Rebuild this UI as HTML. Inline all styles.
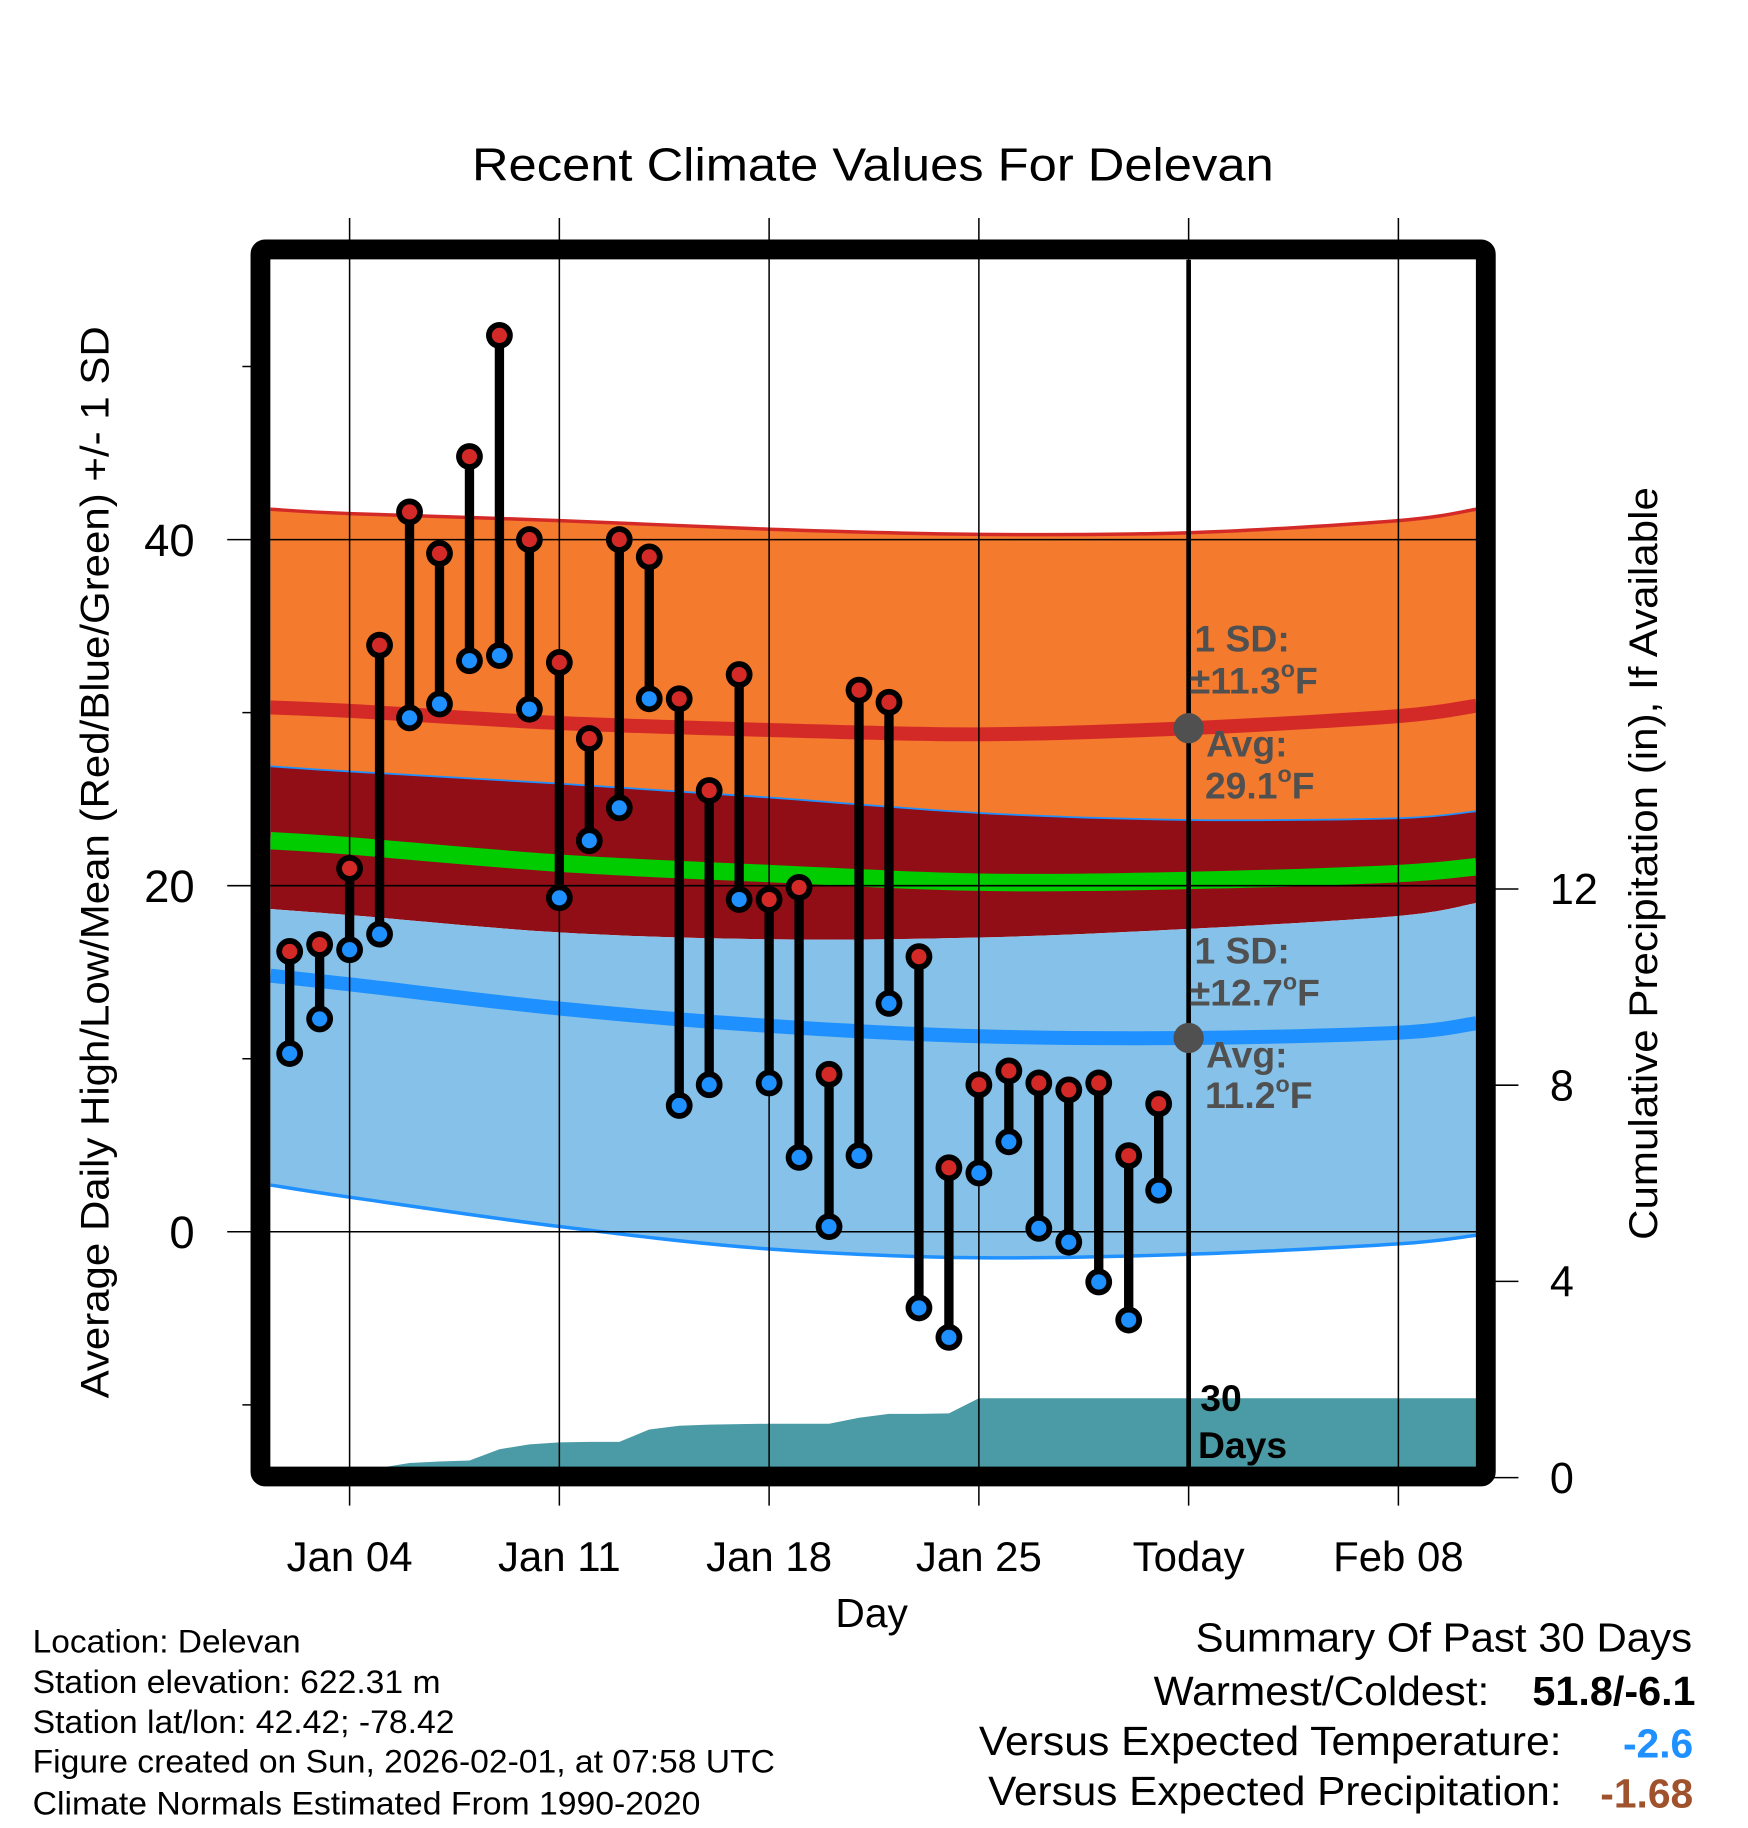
<!DOCTYPE html>
<html><head><meta charset="utf-8"><style>
html,body{margin:0;padding:0;background:#fff}
svg{display:block}
text{font-family:"Liberation Sans",Arial,sans-serif}
</style></head><body>
<svg id="chart" width="1748" height="1828" viewBox="0 0 1500 1568.6" xmlns="http://www.w3.org/2000/svg">
<defs><clipPath id="plotclip"><rect x="232" y="223" width="1035" height="1036"/></clipPath></defs>
<rect width="1500" height="1568.6" fill="#fff"/>
<text x="749" y="155" font-size="40" text-anchor="middle" textLength="688" lengthAdjust="spacingAndGlyphs">Recent Climate Values For Delevan</text>
<g id="plot" clip-path="url(#plotclip)"></g>
<g id="over"></g>
<text transform="translate(93,740) rotate(-90)" font-size="34" text-anchor="middle" textLength="920" lengthAdjust="spacingAndGlyphs">Average Daily High/Low/Mean (Red/Blue/Green) +/- 1 SD</text>
<text transform="translate(1422,741) rotate(-90)" font-size="34" text-anchor="middle" textLength="646" lengthAdjust="spacingAndGlyphs">Cumulative Precipitation (in), If Available</text>
<text x="748" y="1396" font-size="35" text-anchor="middle">Day</text>
<g font-size="28">
<text x="28" y="1418" textLength="230" lengthAdjust="spacingAndGlyphs">Location: Delevan</text>
<text x="28" y="1453" textLength="350" lengthAdjust="spacingAndGlyphs">Station elevation: 622.31 m</text>
<text x="28" y="1487" textLength="362" lengthAdjust="spacingAndGlyphs">Station lat/lon: 42.42; -78.42</text>
<text x="28" y="1521" textLength="637" lengthAdjust="spacingAndGlyphs">Figure created on Sun, 2026-02-01, at 07:58 UTC</text>
<text x="28" y="1557" textLength="573" lengthAdjust="spacingAndGlyphs">Climate Normals Estimated From 1990-2020</text>
</g>
<g font-size="35">
<text x="1452" y="1417" text-anchor="end" textLength="426" lengthAdjust="spacingAndGlyphs">Summary Of Past 30 Days</text>
<text x="1278" y="1463" text-anchor="end" textLength="288" lengthAdjust="spacingAndGlyphs">Warmest/Coldest:</text>
<text x="1455" y="1463" text-anchor="end" font-weight="bold" textLength="140" lengthAdjust="spacingAndGlyphs">51.8/-6.1</text>
<text x="1340" y="1506" text-anchor="end" textLength="500" lengthAdjust="spacingAndGlyphs">Versus Expected Temperature:</text>
<text x="1453" y="1508" text-anchor="end" font-weight="bold" fill="#1E90FF">-2.6</text>
<text x="1340" y="1549" text-anchor="end" textLength="492" lengthAdjust="spacingAndGlyphs">Versus Expected Precipitation:</text>
<text x="1453" y="1551" text-anchor="end" font-weight="bold" fill="#A0522D">-1.68</text>
</g>
</svg>
<script>
// data
const days = [2,3,4,5,6,7,8,9,10,11,12,13,14,15,16,17,18,19,20,21,22,23,24,25,26,27,28,29,30,31];
const highs = [16.2,16.6,21.0,33.9,41.6,39.2,44.8,51.8,40.0,32.9,28.5,40.0,39.0,30.8,25.5,32.2,19.2,19.9,9.1,31.3,30.6,15.9,3.7,8.5,9.3,8.6,8.2,8.6,4.4,7.4];
const lows = [10.3,12.3,16.3,17.2,29.7,30.5,33.0,33.3,30.2,19.3,22.6,24.5,30.8,7.3,8.5,19.2,8.6,4.3,0.3,4.4,13.2,-4.4,-6.1,3.4,5.2,0.2,-0.6,-2.9,-5.1,2.4];
const precip = [0,0,0,0.2,0.3,0.33,0.35,0.58,0.68,0.72,0.73,0.73,0.98,1.06,1.08,1.09,1.1,1.1,1.1,1.22,1.3,1.3,1.31,1.62,1.62,1.62,1.62,1.62,1.62,1.62];
const normDays = [1.36,4,11,18,25,32,39,41.6];
const highPlusSD = [41.75,41.5,41.1,40.6,40.3,40.4,41.1,41.75];
const highAvg = [30.3,30.1,29.4,29.0,28.75,29.1,29.8,30.4];
const highMinusSD = [26.9,26.6,25.9,25.1,24.2,23.8,23.9,24.3];
const meanAvg = [22.6,22.3,21.3,20.7,20.2,20.3,20.7,21.1];
const lowPlusSD = [18.65,18.3,17.3,16.9,17.0,17.5,18.25,19.0];
const lowAvg = [14.8,14.3,12.9,11.9,11.3,11.2,11.5,12.05];
const lowMinusSD = [2.7,2.0,0.3,-1.0,-1.5,-1.3,-0.7,-0.2];
const xTickDays = [4,11,18,25,32,39];
const xTickLabels = ["Jan 04","Jan 11","Jan 18","Jan 25","Today","Feb 08"];
const yTicks = [0,20,40];
const yMinor = [-10,10,30,50];
const y2Ticks = [0,4,8,12];

const NS="http://www.w3.org/2000/svg";
const X = d => 300 + (d-4)*25.714;
const Y = t => 1057 - 14.85*t;
const Y2 = p => 1268 - 42.1*p;
const plot = document.getElementById('plot');
const over = document.getElementById('over');
function mk(tag, attrs, parent){const e=document.createElementNS(NS,tag);for(const k in attrs)e.setAttribute(k,attrs[k]);parent.appendChild(e);return e;}
// smooth curve through normals (Catmull-Rom rendered as cubic beziers)
function curve(arr, reverse){
  let P=normDays.map((d,i)=>[X(d),Y(arr[i])]);
  if(reverse)P=P.slice().reverse();
  let s='';
  for(let i=0;i<P.length-1;i++){
    const p0=P[Math.max(i-1,0)],p1=P[i],p2=P[i+1],p3=P[Math.min(i+2,P.length-1)];
    const c1=[p1[0]+(p2[0]-p0[0])/6,p1[1]+(p2[1]-p0[1])/6];
    const c2=[p2[0]-(p3[0]-p1[0])/6,p2[1]-(p3[1]-p1[1])/6];
    if(i===0)s+=(reverse?' L':'M')+p1[0].toFixed(1)+','+p1[1].toFixed(1);
    s+=' C'+c1.map(v=>v.toFixed(1))+' '+c2.map(v=>v.toFixed(1))+' '+p2.map(v=>v.toFixed(1));
  }
  return s;
}
function band(top,bot,fill,name){
  const e=mk('path',{d:curve(top,false)+curve(bot,true)+' Z',fill:fill},plot);
  
  
}
function line(arr,color,w,name){
  const e=mk('path',{d:curve(arr,false),fill:'none',stroke:color,'stroke-width':w},plot);
  
  
}
band(highPlusSD,highMinusSD,'#F47A2E','high-sd-band');
band(highMinusSD,lowPlusSD,'#910E16','mean-band');
band(lowPlusSD,lowMinusSD,'#85C1E8','low-sd-band');
line(highPlusSD,'#D42A27',3,'high-plus-sd-line');
line(highMinusSD,'#1E90FF',1.5,'high-minus-sd-line');
line(lowMinusSD,'#1E90FF',3,'low-minus-sd-line');
line(highAvg,'#D42A27',12,'avg-high-line');
line(meanAvg,'#00CC00',15,'avg-mean-line');
line(lowAvg,'#1E90FF',12,'avg-low-line');
// precip area
{
  const p=[X(days[0])+','+Y2(0)];
  days.forEach((d,i)=>p.push(X(d).toFixed(1)+','+Y2(precip[i]).toFixed(1)));
  p.push('1270,'+Y2(precip[precip.length-1]).toFixed(1));
  p.push('1270,'+Y2(0));
  const e=mk('polygon',{points:p.join(' '),fill:'#4A9BA5'},plot);
  
  
}
// gridlines
yTicks.forEach(t=>{
  const e=mk('line',{x1:195,x2:1267,y1:Y(t),y2:Y(t),stroke:'#000','stroke-width':1.3},over);
  
  
  const l=mk('text',{x:167,y:Y(t)+14,'font-size':39,'text-anchor':'end'},over);
  l.textContent=t;
  
  
});
yMinor.forEach(t=>{
  const e=mk('line',{x1:208,x2:224,y1:Y(t),y2:Y(t),stroke:'#000','stroke-width':1.3},over);
  
  
});
y2Ticks.forEach(p=>{
  const e=mk('line',{x1:1275,x2:1303,y1:Y2(p),y2:Y2(p),stroke:'#000','stroke-width':1.3},over);
  
  
  const l=mk('text',{x:1330,y:Y2(p)+13,'font-size':37},over);
  l.textContent=p;
  
  
});
xTickDays.forEach((d,i)=>{
  const e=mk('line',{x1:X(d),x2:X(d),y1:187,y2:1292,stroke:'#000','stroke-width':1.3},over);
  
  
  const l=mk('text',{x:X(d),y:1348,'font-size':36,'text-anchor':'middle'},over);
  l.textContent=xTickLabels[i];
  
  
});
// today line
{
  const e=mk('line',{x1:X(32),x2:X(32),y1:223,y2:1262,stroke:'#000','stroke-width':4},over);
  
  
}
// frame
{
  const e=mk('rect',{x:223.5,y:214,width:1051.5,height:1053,fill:'none',stroke:'#000','stroke-width':17,rx:4},over);
  
  
}
// stems and dots
days.forEach((d,i)=>{
  const x=X(d);
  const s=mk('line',{x1:x,x2:x,y1:Y(highs[i]),y2:Y(lows[i]),stroke:'#000','stroke-width':8},over);
  
  
});
days.forEach((d,i)=>{
  const x=X(d);
  [[lows[i],'#1E90FF','low-point'],[highs[i],'#D42A27','high-point']].forEach(([v,c,n])=>{
    const o=mk('circle',{cx:x,cy:Y(v),r:11.5,fill:'#000'},over);
    
    
    const ci=mk('circle',{cx:x,cy:Y(v),r:6.5,fill:c},over);
    
    
  });
});
// annotations
function txt(x,y,s,opts,name){
  const t=mk('text',Object.assign({x:x,y:y,'font-size':32,'font-weight':'bold',fill:'#505050'},opts||{}),over);
  t.innerHTML=s;
  
  
}
{
  const c1=mk('circle',{cx:X(32),cy:Y(29.1),r:13,fill:'#505050'},over);
  
  
  const c2=mk('circle',{cx:X(32),cy:Y(11.2),r:13,fill:'#505050'},over);
  
  
}
const deg='<tspan font-size="20" dy="-14">o</tspan><tspan dy="14">F</tspan>';
txt(1025,559,'1 SD:',{},'high-sd-label');
txt(1021,595,'±11.3'+deg,{},'high-sd-value');
txt(1035,649,'Avg:',{},'high-avg-label');
txt(1034,685,'29.1'+deg,{},'high-avg-value');
txt(1025,827,'1 SD:',{},'low-sd-label');
txt(1021,863,'±12.7'+deg,{},'low-sd-value');
txt(1035,916,'Avg:',{},'low-avg-label');
txt(1034,951,'11.2'+deg,{},'low-avg-value');
txt(1030,1211,'30',{fill:'#000'},'precip-days-label');
txt(1028,1251,'Days',{fill:'#000'},'precip-days-unit');
</script>
</body></html>
